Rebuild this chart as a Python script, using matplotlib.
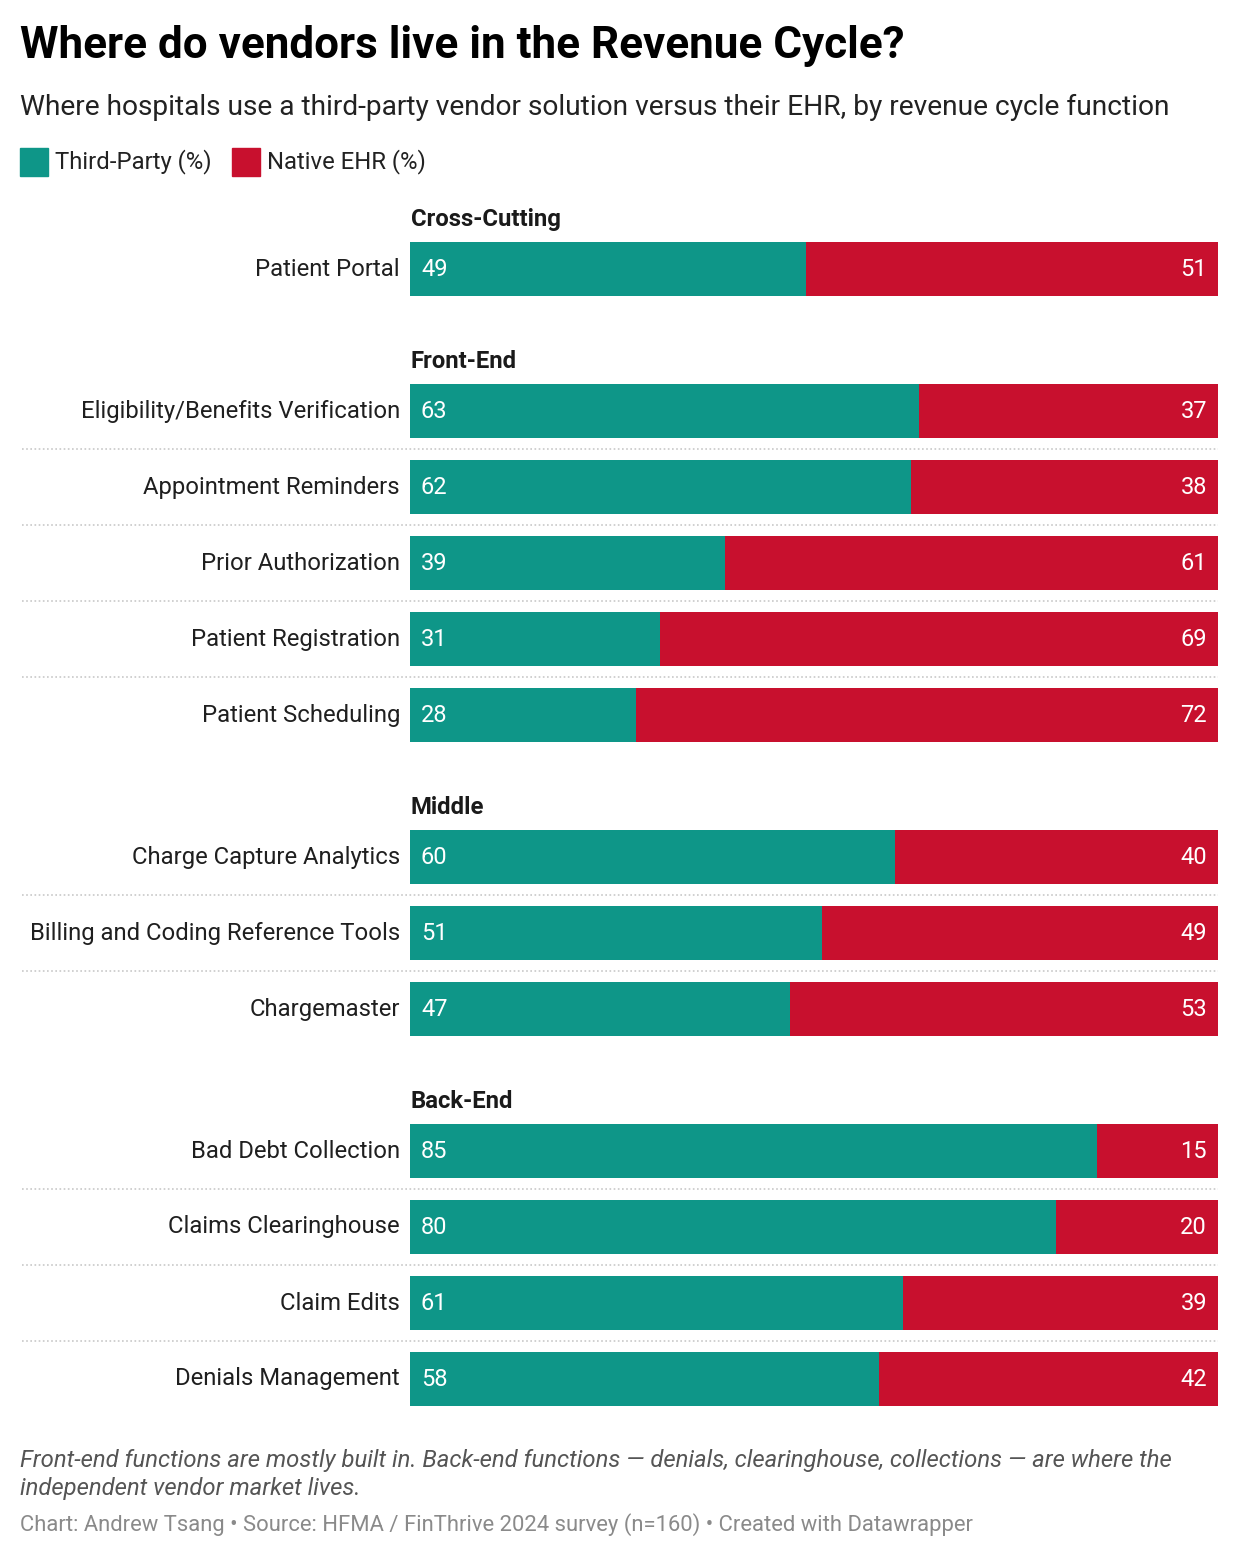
import matplotlib.pyplot as plt
from matplotlib.patches import Rectangle

plt.rcParams['font.family'] = ['Roboto', 'DejaVu Sans']

groups = ["Cross-Cutting", "Front-End", "Middle", "Back-End"]
group_items = [
    ["Patient Portal"],
    ["Eligibility/Benefits Verification", "Appointment Reminders", "Prior Authorization",
     "Patient Registration", "Patient Scheduling"],
    ["Charge Capture Analytics", "Billing and Coding Reference Tools", "Chargemaster"],
    ["Bad Debt Collection", "Claims Clearinghouse", "Claim Edits", "Denials Management"],
]
third_party = [
    [49],
    [63, 62, 39, 31, 28],
    [60, 51, 47],
    [85, 80, 61, 58],
]
native_ehr = [
    [51],
    [37, 38, 61, 69, 72],
    [40, 49, 53],
    [15, 20, 39, 42],
]

TEAL = "#0e9688"
RED = "#c8102e"
W, H = 1240, 1558

fig = plt.figure(figsize=(W / 100, H / 100), dpi=100)
fig.patch.set_facecolor("white")

# bar area: x pixels 410..1218, y axis in pixel units (top-down)
ax = fig.add_axes([410 / W, 0, 808 / W, 1])
ax.set_xlim(0, 100)
ax.set_ylim(H, 0)
ax.axis("off")
px = 100 / 808  # data units per pixel horizontally

bar_h = 54
step = 76
y = 218
for g, name in enumerate(groups):
    ax.text(0.1, y + 1.5, name, fontsize=17.2, fontweight="bold", color="#1a1a1a",
            ha="left", va="center")
    y += 51
    for i, item in enumerate(group_items[g]):
        tp = third_party[g][i]
        ne = native_ehr[g][i]
        ax.barh(y, tp, height=bar_h, color=TEAL)
        ax.barh(y, ne, left=tp, height=bar_h, color=RED)
        ax.text(-10 * px, y, item, fontsize=17.2, color="#1f1f1f", ha="right", va="center")
        ax.text(11 * px, y, str(tp), fontsize=17, color="white", ha="left", va="center")
        ax.text(100 - 11 * px, y, str(ne), fontsize=17, color="white", ha="right", va="center")
        if i < len(group_items[g]) - 1:
            ax.plot([-388 * px, 100], [y + step / 2] * 2, color="#c8c8c8", lw=1.2,
                    ls=(0, (1, 1.5)), clip_on=False)
            y += step
    y += 91

# title, subtitle, legend
fig.text(20 / W, 1 - 46 / H, "Where do vendors live in the Revenue Cycle?", fontsize=31.7,
         fontweight="bold", color="#000000", ha="left", va="center")
fig.text(20 / W, 1 - 107 / H,
         "Where hospitals use a third-party vendor solution versus their EHR, by revenue cycle function",
         fontsize=20.25, color="#222222", ha="left", va="center")
for x0, lab, col in [(20, "Third-Party (%)", TEAL), (232, "Native EHR (%)", RED)]:
    fig.patches.append(Rectangle((x0 / W, 1 - 176 / H), 28 / W, 28 / H,
                                 transform=fig.transFigure, color=col))
    fig.text((x0 + 35) / W, 1 - 162 / H, lab, fontsize=17.2, color="#222222",
             ha="left", va="center")

# notes
fig.text(20 / W, 1 - 1461 / H,
         "Front-end functions are mostly built in. Back-end functions \u2014 denials, clearinghouse, collections \u2014 are where the",
         fontsize=17.2, style="italic", color="#555555", ha="left", va="center")
fig.text(20 / W, 1 - 1489 / H, "independent vendor market lives.",
         fontsize=17.2, style="italic", color="#555555", ha="left", va="center")
fig.text(20 / W, 1 - 1525 / H,
         "Chart: Andrew Tsang \u2022 Source: HFMA / FinThrive 2024 survey (n=160) \u2022 Created with Datawrapper",
         fontsize=15.8, color="#8a8a8a", ha="left", va="center")

fig.savefig("out.png", dpi=100)
